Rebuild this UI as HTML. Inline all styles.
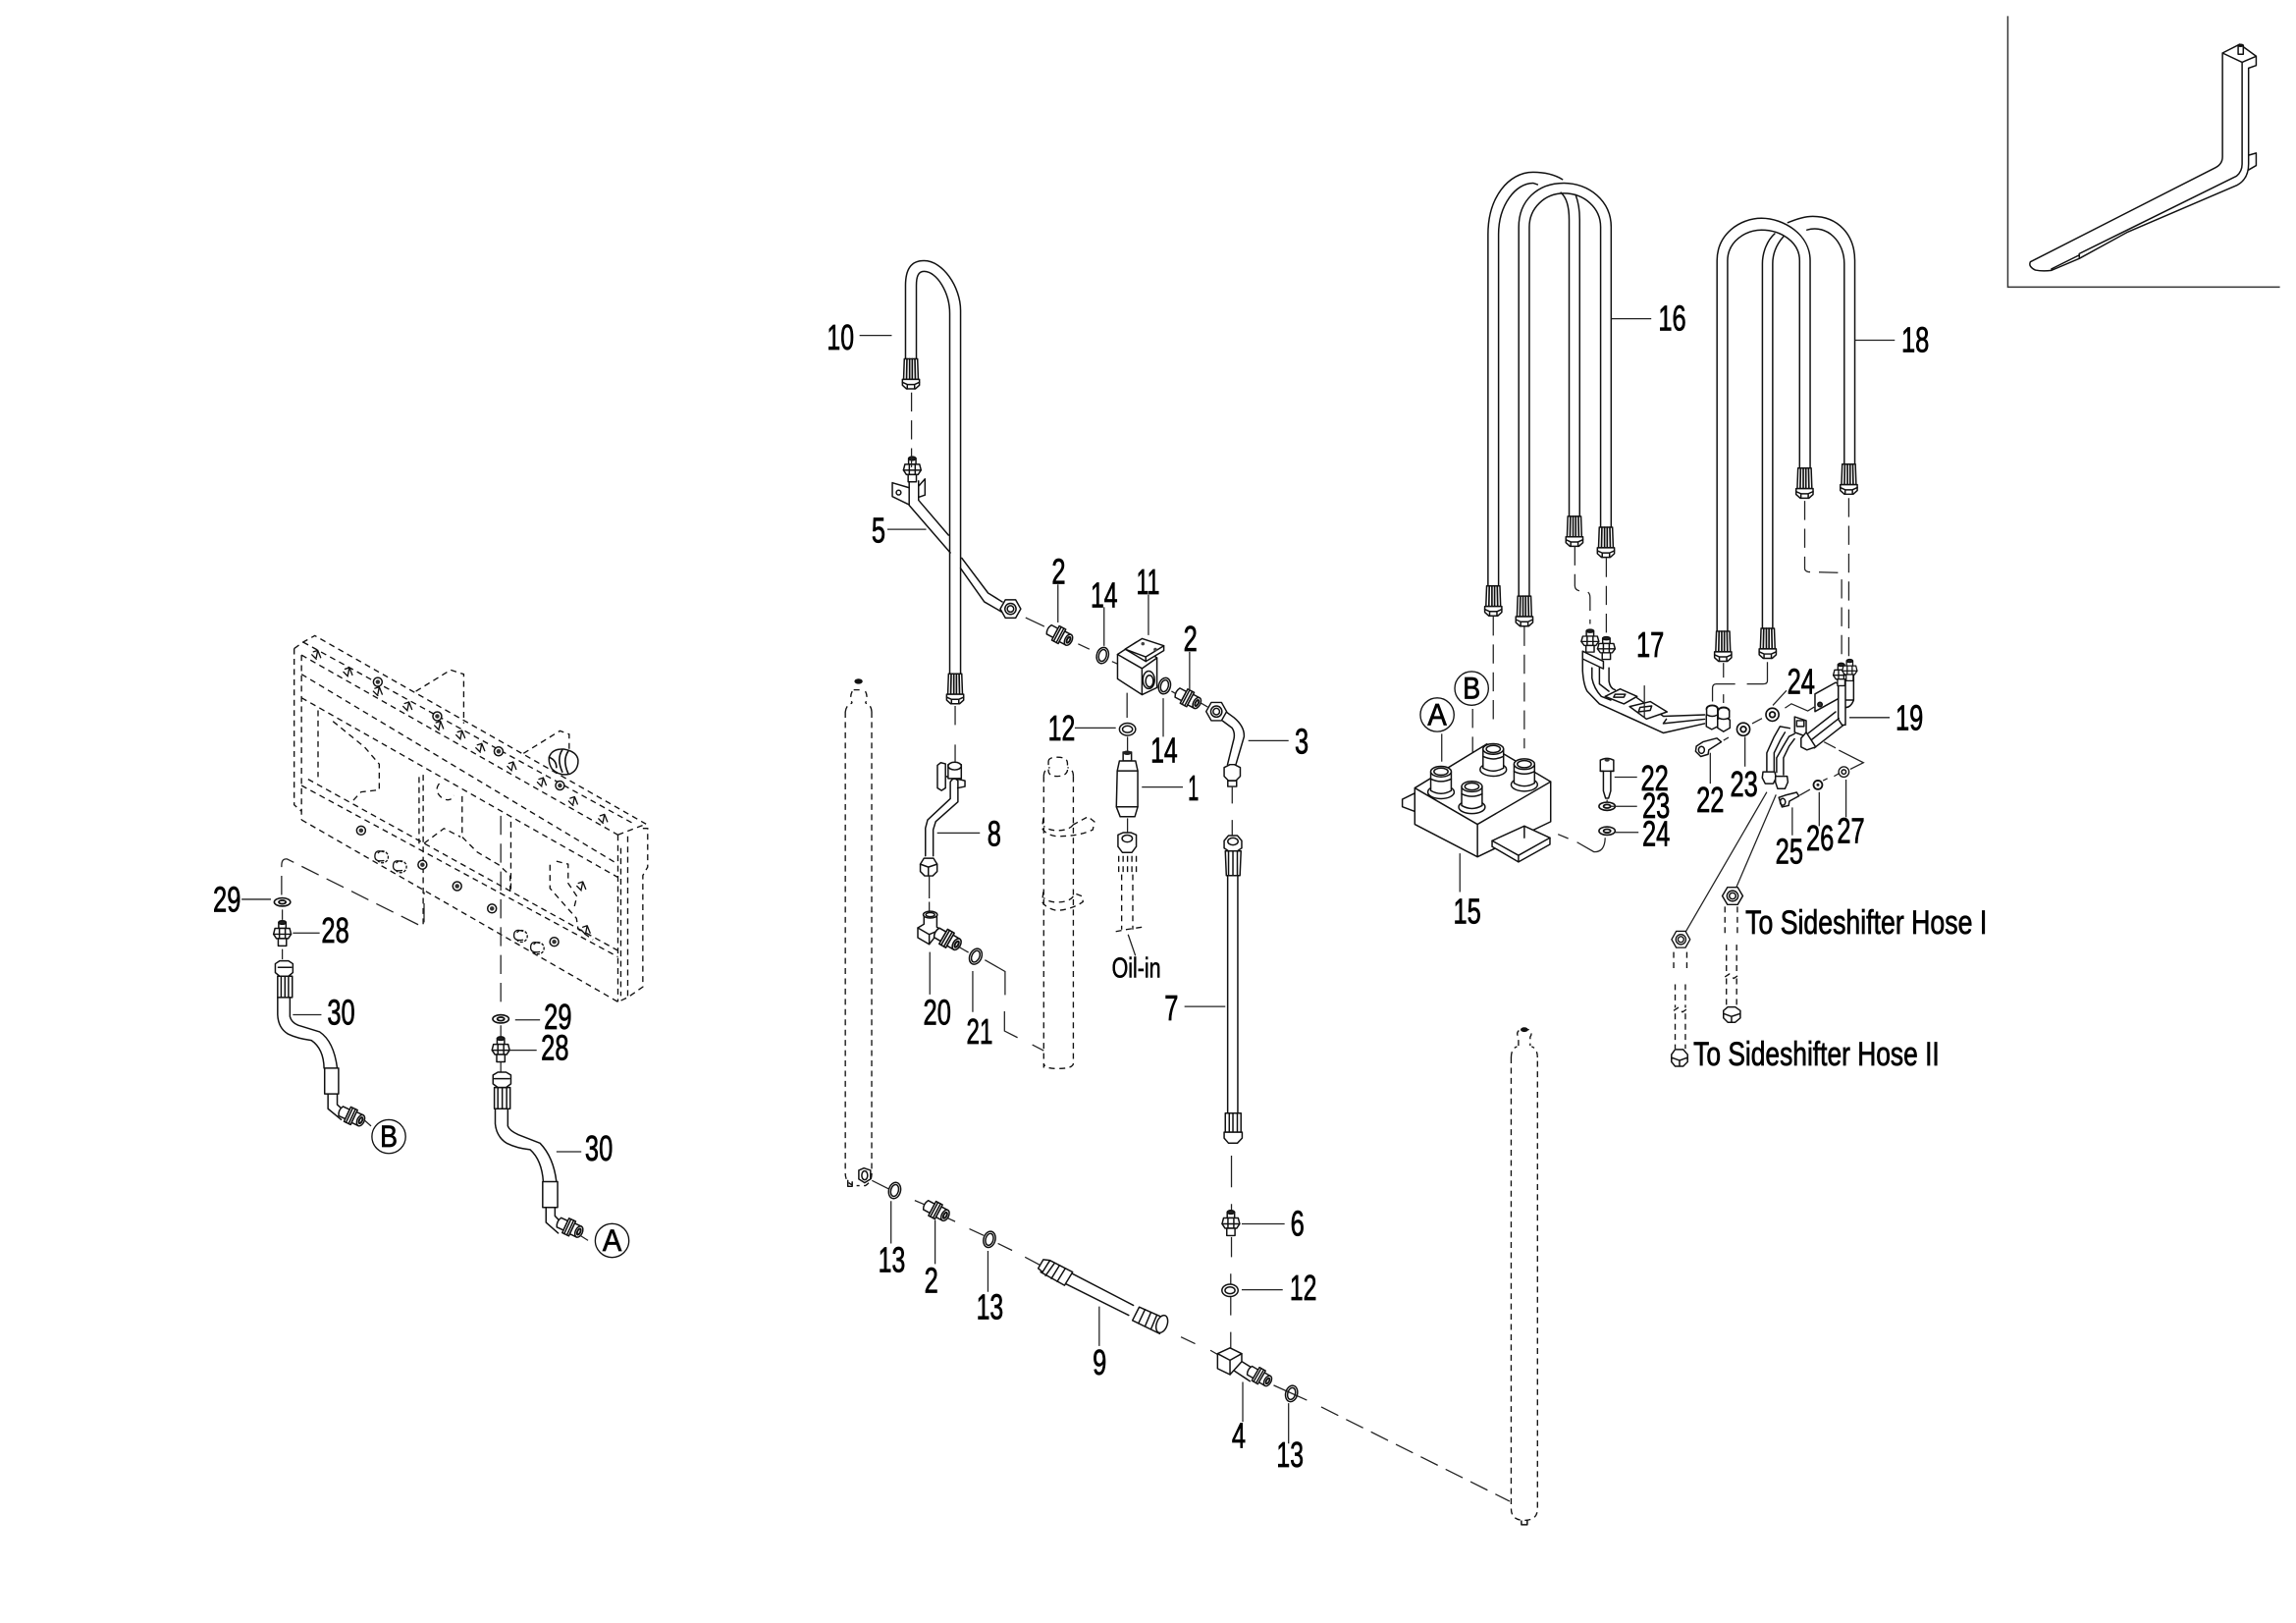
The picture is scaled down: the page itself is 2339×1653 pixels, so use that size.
<!DOCTYPE html>
<html><head><meta charset="utf-8"><title>Hydraulic diagram</title>
<style>
html,body{margin:0;padding:0;background:#fff}
svg{position:absolute;left:0;top:0;display:block}
text{font-family:"Liberation Sans",sans-serif;font-size:24px;fill:#000;stroke:#000;stroke-width:.5px;text-anchor:middle}
.g{fill:none;stroke:#111;stroke-width:1;stroke-linejoin:round;stroke-linecap:round}
.t{fill:none;stroke:#222;stroke-width:.85}
.d{fill:none;stroke:#222;stroke-width:.85;stroke-dasharray:13 6}
.s{fill:none;stroke:#111;stroke-width:.9;stroke-dasharray:4 3}
.w{fill:#fff}
</style></head><body>
<svg xmlns="http://www.w3.org/2000/svg" width="2339" height="1653" viewBox="0 0 1568 1108.1" preserveAspectRatio="none">
<defs>
<g id="fer"><path class="g w" d="M-4.5 0H4.5L5 14H-5Z"/><path class="g" d="M-2.7 0-3 14M-.9 0V14M.9 0V14M2.7 0 3 14" style="stroke-width:1.1"/><path class="g w" d="M-5.8 14H5.8L5.8 18 3 20.5H-3L-5.8 18Z"/><path class="g" d="M-5.8 16 -2.5 17.5H2.5L5.8 16M-2.5 17.5V20.5M2.5 17.5V20.5"/></g>
<g id="nut"><path class="g w" d="M-3.5-6.2 3.5-6.2 7 0 3.5 6.2-3.5 6.2-7 0Z"/><circle class="g" r="3.8"/><circle class="g" r="2.2"/></g>
<g id="fit"><path class="g w" d="M-8-3.5H-3V3.5H-8Q-10 0-8-3.5Z"/><path class="g w" d="M-3-5.5H2V5.5H-3Z"/><path class="g" d="M-1.5-5.5V5.5M.5-5.5V5.5"/><path class="g w" d="M2-4H7V4H2Z"/><ellipse class="g w" cx="7" cy="0" rx="2.4" ry="4"/><ellipse class="g" cx="7" cy="0" rx="1" ry="2.2" style="stroke-width:1.3"/></g>
<g id="wash"><ellipse class="g" rx="4" ry="5.6" style="stroke-width:1"/><ellipse class="g" rx="2.6" ry="4.1"/></g>
<g id="flat"><ellipse class="g w" rx="5.5" ry="2.8" style="stroke-width:1.1"/><ellipse class="g" rx="2.4" ry="1.2" style="stroke-width:1.2"/></g>
<g id="vwash"><ellipse class="g w" rx="5.5" ry="4.2" style="stroke-width:1"/><ellipse class="g" rx="3.4" ry="2.3"/></g>
<g id="nwash"><circle class="g w" r="4.4" style="stroke-width:1.1"/><circle class="g" r="1.9" style="stroke-width:1.2"/></g>
<g id="port"><ellipse class="g w" cx="0" cy="14" rx="9" ry="4.5"/><path class="g w" d="M-7 0V13Q0 17 7 13V0Z"/><path class="g" d="M-7 5Q0 8.5 7 5"/><ellipse class="g w" rx="7" ry="3.6"/><ellipse class="g" rx="4.8" ry="2.4"/></g>
<g id="vfit"><path class="g w" d="M-2.5-8H2.5V-4H-2.5Z"/><ellipse class="g" cy="-8" rx="2.5" ry="1.2" style="fill:#222"/><path class="g w" d="M-5-4H5L6 0 4 3H-4L-6 0Z"/><path class="g" d="M-6 0H6M-2-4V3M2-4V3"/><path class="g w" d="M-2.8 3H2.8V8H-2.8Z"/></g>
<g id="mark"><path class="g" d="M-2-2 1-3 0 2M1-3 3 2M-3 0 0 3" style="stroke-width:.9"/></g>
<g id="dot"><circle r="3" fill="#fff" stroke="#111" stroke-width="1"/><circle r="1.5" fill="#333"/></g>
<g id="cc"><path class="g" d="M3-3Q-3-5-3 0 -3 4 3 3" style="stroke-width:.9"/><path class="s" d="M-1-2A4 4 0 1 1-1 3" style="stroke-dasharray:2 1"/></g>
</defs>

<!-- inset frame -->
<path d="M1371.2 11V196H1557" fill="none" stroke="#333" stroke-width="1"/>
<path class="g" d="M1517.8 36.2 1529.6 30.2 1540.8 38.4 1531.2 42.5ZM1517.8 36.2V107Q1517.8 112 1512.9 114.5L1386.6 178.8Q1385 182 1390 184.4 1395 185.4 1401 184.6L1420 176.5 1452.5 158.7 1528 126.3Q1535.6 122 1535.6 112V46.5M1531.2 42.5V112Q1531.2 117 1527.4 120.2L1420 173.2V176.5M1401 183.6 1419.7 174.3M1540.8 38.4V44.7L1535.6 46.5M1535.6 106 1540.8 104.5V113L1535.6 116"/>
<path class="g w" d="M1528.5 31H1532V37H1528.5Z"/><ellipse cx="1530.2" cy="31" rx="2.3" ry="1.2" fill="#111"/>

<!-- mounting frame (dashed) -->
<g class="s">
<path d="M200.9 442.8 207 438.4 215 434 441.2 562.6M207 438.4 433.3 562.7M200.9 442.8V549.5L205.9 553.9M205.9 447.2V559.7M205.9 447.2 422 570M205.9 460.3 422 590M205.9 476.4 422 599"/>
<path d="M205.9 536.3 422 653.3M210.4 532 422 649M205.9 559.7 422 684M422 570V684M428.7 571V681M422 570 441.2 562.6M439 565.6H442.3V592L439 597.7V673.8L428.7 681 422 684"/>
<path d="M217.2 485V530.5M227.4 492.5 248.9 510 259 521.7V539.3L246.6 540.7 239.8 548M286.2 530.5V576M289 529V632"/>
<path d="M284 472 307.7 457.4 316.7 460.3V494M357.5 514.4 382.4 499 388.7 501.3V512"/>
<path d="M315.6 543.6V571.4L325.8 581.7 340.5 590.4 348.4 597.7V609.4M289.6 575.8 303.2 565.6 314.5 571.4M348.9 561V609"/>
<path d="M375.6 590.4V606.5L393.7 627 394.8 634.3 405 641.6M380 588 388 590V603L394 612 392 620M424 579V680"/>
<path d="M300 535Q296 540 302 545 308 548 310 543"/>
</g>
<g>
<use href="#dot" x="258" y="465.6"/><use href="#dot" x="298.6" y="489"/><use href="#dot" x="340.5" y="513"/><use href="#dot" x="382.4" y="536.3"/>
<use href="#dot" x="246.6" y="567"/><use href="#dot" x="288.5" y="590.4"/><use href="#dot" x="312.2" y="605"/><use href="#dot" x="336" y="620.3"/><use href="#dot" x="378.5" y="643"/>
<use href="#mark" x="216" y="447"/><use href="#mark" x="237.6" y="458.8"/><use href="#mark" x="258" y="472"/><use href="#mark" x="278.3" y="482.3"/><use href="#mark" x="299.8" y="495.4"/><use href="#mark" x="314.5" y="501.8"/><use href="#mark" x="328" y="510.6"/><use href="#mark" x="349.5" y="523.2"/><use href="#mark" x="370" y="534"/><use href="#mark" x="391.4" y="547"/><use href="#mark" x="411.8" y="559"/>
<use href="#mark" x="397" y="605"/><use href="#mark" x="400" y="635"/>
<use href="#cc" x="259" y="584.6"/><use href="#cc" x="271.5" y="591.3"/><use href="#cc" x="354" y="638.7"/><use href="#cc" x="365.4" y="646.9"/>
</g>
<g class="g"><path class="w" d="M375 517Q377 511 385 511.5 394 513 394.8 519 395 526 389 528.5 382 530 377 525 374.5 521 375 517Z"/><path d="M384 512Q380 518 384 527M388 513Q384 519 388 528M375 517Q380 519 380 524" style="stroke-width:1.1"/></g>

<!-- left assembly connectors -->
<path class="d" d="M192.3 611V591Q192.3 586 196 586.5L287 632Q289.6 633 289.6 630V609"/>
<path class="d" d="M342 557V690"/>
<path class="t" d="M342 700V708M342 724V732M192.8 621V628M192.8 648V655"/>
<use href="#flat" x="192.8" y="615.9"/><use href="#vfit" x="192.8" y="637.8"/>
<use href="#flat" x="342" y="695.7"/><use href="#vfit" x="342" y="717"/>
<path class="g" d="M189.6 681V692.8Q190 702 196.8 706 203 709 212.7 710.3 221 716 221.3 729.3M198 681V694Q199 698 203.6 700L218.3 704.5Q228 711 230.3 729.3M221.7 729.3H231.2V746.9H221.7ZM224 747V757L233 764.4M230.3 747V754.2L235.3 758.6"/>
<path class="g w" d="M188 658 191 656H197L200 658V664L197 666.5H191L188 664Z"/><path class="g" d="M189.6 666.5H199.6V681H189.6ZM192 666.5V681M194.6 666.5V681M197 666.5V681M190 660.5H199"/>
<use href="#fit" transform="translate(240 762) rotate(25)"/>
<path class="g" d="M338.2 757V767.3Q339 776 346 780.5 353 784 362 784.9 370 792 371 806.8M346.8 757V768.8Q348 772 354 774.7L368.8 780.5Q378 790 380 806.8M370.6 806.8H380.8V824.4H370.6ZM372.9 824.4V834.6L381.2 841.9M379 824.4V830.2L384.6 836"/>
<path class="g w" d="M336.7 734 340 732H345.6L348.9 734V740L345.6 742.5H340L336.7 740Z"/><path class="g" d="M337.6 742.5H348.4V757H337.6ZM340 742.5V757M343 742.5V757M346 742.5V757M337.5 736.5H348"/>
<use href="#fit" transform="translate(389 838) rotate(25)"/>
<path class="t" d="M248.4 764.4 253.4 768.8M396 843.4 401.6 846.9"/>

<!-- hose 10 + tube 5 -->
<path class="g" d="M620.9 328.4V345L649 377.4M656 388 672.2 410.9 684.5 418M627.3 328.4V341.5L647.8 365.4M656.8 381 674.8 404.9 684.5 410.9"/>
<path class="g" d="M609.4 329.6V339L620.9 344.6M609.4 329.6 620.9 333M627.3 332 631.7 327V338L627.3 339.5"/><circle class="g" cx="613.7" cy="336.3" r="1.6"/>
<use href="#vfit" x="623" y="321" />
<use href="#nut" x="690.1" y="415.7"/>
<path class="g" d="M618.4 245V195C618.4 184 622 178 631 178 644 178 656 196 656 212V460M625.8 245V195C625.8 189 627 185.3 631 185.3 640 185.3 648.6 200 648.6 214V460"/>
<use href="#fer" x="622.1" y="245"/>
<use href="#fer" x="652.3" y="460"/>
<path class="d" d="M622.5 268V320M652.3 482V497M652.3 508.4V520"/>
<path class="t" d="M700.4 421.7 713.2 427.7M736.3 439.6 744 443.2M759.4 451.6 763.2 453.3M800 471.9 804.2 474.3M818.4 479 824.8 482.7"/>

<!-- valve 11 -->
<path class="g w" d="M763.2 446.8 776 438.4 790.1 449.2V469.5L779.9 474.3 763.2 463.5Z"/>
<path class="g" d="M763.2 446.8 779.9 456.4 790.1 449.2M779.9 456.4V474.3"/>
<path class="g w" d="M768.4 443.2 780 436 794.8 440.9V444.2L782.5 451.6Z"/><path class="g" d="M768.4 443.2 782.5 448.5 794.8 440.9M782.5 448.5V451.6"/>
<circle cx="780.5" cy="439.5" r="1.2" fill="#444"/><circle cx="789" cy="443.5" r="1.2" fill="#444"/>
<ellipse class="g" cx="784.5" cy="464.2" rx="4" ry="6"/><ellipse class="g" cx="785" cy="465" rx="2.6" ry="4"/>
<use href="#fit" transform="translate(723.5 433.6) rotate(28)"/>
<use href="#fit" transform="translate(811.2 476.7) rotate(28)"/>
<use href="#wash" x="753" y="447.5" transform="rotate(15 753 447.5)"/>
<use href="#wash" x="795.3" y="468.3" transform="rotate(15 795.3 468.3)"/>

<!-- tube 3 -->
<path class="g" d="M836 485 842.7 489.9Q850 496 849.6 503L844 522M835 492.2 841.4 497Q843.5 500 842.7 504.2L838.3 522"/>
<use href="#nut" x="830.7" y="485.8"/>
<path class="g w" d="M836 524 840 522H843L847 524V530L844 533H839L836 530Z"/><path class="g" d="M838.5 533H844.5V537H838.5Z"/>
<path class="t" d="M841.5 537.4V548.6M841.5 559.8V571"/>

<!-- hose 7 -->
<path class="g" d="M838.4 597.8V760M845.3 597.8V760"/>
<path class="g w" d="M836 574 839 570.5H845L848 574V579L845 581H839L836 579Z"/><ellipse class="g" cx="842" cy="574.5" rx="3.5" ry="2.4"/>
<path class="g" d="M836.8 581H847.5L846.8 597.8H837.5ZM839 581V597.8M842 581V597.8M845 581V597.8"/>
<path class="g w" d="M836.8 760H847.5V773H836.8ZM839.5 760V773M842 760V773M845 760V773"/>
<path class="g w" d="M836 773H848.3V777L845 780.5H839L836 777Z"/>
<path class="t" d="M841 789V810.6M841 822V827.6M841 844.6V858.3M840.5 869.6V877.6M840.5 885.6V898M840.5 909.4V920.8"/>
<use href="#vfit" x="840.6" y="835.6"/>
<use href="#vwash" x="840" y="881"/>

<!-- filter 1 -->
<path class="t" d="M769.7 473V490M770 503V513M770 558.7V571"/>
<use href="#vwash" x="770" y="497.9"/>
<path class="g w" d="M767 513.5H772.7V519.5H767Z"/><ellipse cx="769.8" cy="514" rx="2.8" ry="1.5" fill="#222"/>
<path class="g w" d="M763 526.3 764.5 519.5H775.5L777 526.3V550.9L775 557.6H765L762.4 550.9Z"/>
<path class="g" d="M763 526.3H777M762.4 550.9H777"/>
<path class="g w" d="M763.5 570 767 568.5H772.5L776 570 776 578 773 582H766.5L763.5 578Z"/><ellipse class="g" cx="769.8" cy="572.5" rx="3.5" ry="2.4"/>
<path class="s" d="M764 584.4V596.7M776 584.4V596.7M767 584.4V596.7M770 584.4V596.7M773 584.4V596.7M766 597V634.7M773.6 597V634.7M762 636 770 634.5 780 633"/>
<path class="t" d="M770.4 638 775.4 652.5"/>

<!-- bracket 8 -->
<path class="g" d="M640.2 522.5 642.5 520.7 645.7 521.5V538L643 539.7 640.2 538ZM645.7 530 659 533V537L654 538"/>
<path class="g w" d="M647.5 522H656.5V531.5H647.5Z"/><ellipse class="g w" cx="652" cy="523" rx="4.5" ry="2.6"/>
<path class="g" d="M649 534V545.3L633.5 559.8 632 565.4V584.4M654.2 533V547.5L639 561 637.3 566.5V584.4M649 534Q651 530 654.2 533"/>
<path class="g w" d="M628.5 590 631 586H637.5L640 590V595L637 598H631.5L628.5 595Z"/><path class="g" d="M628.5 590 634 592 640 590M634 592V598"/>
<path class="t" d="M634.6 598V613.4M634.6 615.7V623.5"/>

<!-- elbow 20 -->
<path class="g w" d="M626.8 633.5 631 631V624H639.8V633L642.4 634.7 634.6 644.7 626.8 640.2Z"/><path class="g" d="M626.8 633.5 634.6 638 642.4 634.7M634.6 638V644.7"/>
<ellipse class="g w" cx="635.3" cy="624.5" rx="4.8" ry="2.3"/><ellipse class="g" cx="635.3" cy="624.5" rx="3" ry="1.4"/>
<use href="#fit" transform="translate(647 641) rotate(30) scale(1.05)"/>
<use href="#wash" x="666.3" y="653" transform="rotate(25 666.3 653)"/>
<path class="t" d="M653.6 645.8 661.4 650.3"/>
<path class="t" d="M672.6 655.4 686.4 663.3V679.3M686 690.5V703.9L694.9 708.4M705 713.3 712.8 717.3"/>

<!-- cylinders dashed -->
<g class="s">
<path d="M577.3 486V800Q577 807 582 809M595.3 486V802Q595 807 591 809.5H585"/>
<path d="M577.3 486Q578 481 582 480M595.3 486Q595 481 591 480M582 472Q580 476 582 480M591 472Q593 476 591 480M583 471 590 471"/>
<path d="M712.8 530V729M733 530V726Q733 729.6 722 729.6 713 729.6 712.8 726"/>
<path d="M712.8 530Q713 525 717 524M733 530Q733 525 729 524M716 520Q716 517 722 517 729 517 729 521V526Q728 530 722 530 716 530 716 526Z"/>
<path d="M712.5 558.7 711.7 565.4Q714 570 721.7 571 737 571 746.3 566.5L747.4 561 743 557.6 733 563M733 563Q730 567 722 567 716 567 712.8 564"/>
<path d="M712.5 609 711.7 615.7Q714 620 721.7 621.7 732 621 739.6 615.7L739 611.9 734 610M733 612Q730 616 722 616 716 616 712.8 613"/>
<path d="M1032 722V1030Q1032 1038 1041 1038 1050 1038 1050 1030V722M1032 722Q1032 716 1036 714.5M1050 722Q1050 716 1046 714.5"/>
<path d="M1037 714V708Q1035 705 1038 703H1044Q1047 705 1045 708V714"/>
<path d="M1143 650V664M1152 650V664M1144 672V688M1151 672V688M1143 690 1146 688 1149 691 1152 689M1144 692V716M1151 692V716"/>
<path d="M1178 619V640M1186.5 619V640M1179 645V665M1186 645V665M1178 667 1181 665 1184 668 1187 666M1179 668V688M1186 668V688"/>
</g>
<ellipse cx="586.3" cy="465.2" rx="2.8" ry="1.8" fill="#111"/>
<ellipse cx="1041" cy="703" rx="2.6" ry="1.6" fill="#111"/>
<path class="g" d="M1039 1038.5V1041H1043V1038"/>
<path class="g" d="M579 806V810H582V807"/>
<path class="g w" d="M586.5 799 590 797.5 594.5 799V805L590.5 807.5 586.5 805Z"/><ellipse class="g" cx="590.5" cy="802.5" rx="2" ry="3"/>

<!-- bottom chain -->
<path class="t" d="M595.5 806 606.8 811.7M624.7 819.6 632.8 823M645.8 831 652.3 834M662 839 671.8 843.5M681.5 849 691.2 853.7M700 858.3 710.7 864M806.5 912.8 816.2 917.4M826.6 921.9 832.5 925.3M869.8 945.8 892.5 956"/>
<path class="d" d="M902.3 960.6 1031 1025"/>
<use href="#wash" x="611" y="812.8" transform="rotate(15 611 812.8)"/>
<use href="#fit" transform="translate(639.3 826.5) rotate(28)"/>
<use href="#wash" x="675.7" y="846.2" transform="rotate(15 675.7 846.2)"/>
<use href="#wash" x="882" y="951.5" transform="rotate(15 882 951.5)"/>

<!-- hose 9 -->
<path class="g" d="M730.2 868.5 774 891.2M725.3 875.3 770.8 898"/>
<path class="g w" d="M717.2 860.6 732.5 868.5 727 877.6 710.7 868.5Z"/><path class="g" d="M720 862.6 714 871M723.5 864 718 873M727.5 866 722 875"/>
<path class="g w" d="M712.5 860 717 860.5 712 868.5 709 866Z"/>
<path class="g w" d="M778 892.4 796 900.3 792 910.6 773.4 901.5Z"/><path class="g" d="M782 894 777.5 903.5M786 896 782 905.5M790 898 786 907.5"/>
<ellipse class="g w" cx="793.5" cy="904" rx="3.6" ry="6.2" transform="rotate(20 793.5 904)"/>

<!-- elbow 4 -->
<path class="g" d="M848 929.5 856.8 935M840.6 934.4 853.6 943"/>
<path class="g w" d="M831.5 924.2 840 920.3 848 924.2V929.6L840 938.5 831.5 934.4Z"/><path class="g" d="M831.5 924.2 840 928.7 848 924.2M840 928.7V938.5"/>
<use href="#fit" transform="translate(860 939.5) rotate(30) scale(.95)"/>

<!-- hoses 16 -->
<g class="g">
<path d="M1016.2 400V160C1016.2 135 1030 117.6 1047 117.6 1055 117.6 1062 119.5 1067 122.5M1023.4 400V160C1023.4 140 1035 125 1047 125L1050 126"/>
<path d="M1071.6 352.5V150C1071.6 142 1070 135 1066 131.5M1078.8 352.5V150C1078.8 143 1078 138 1076 133"/>
<path d="M1037.2 407V155C1037.2 137 1050 125 1068 125 1085 125 1100.3 137 1100.3 155V360M1044.4 407V155C1044.4 142 1055 132 1068 132 1082 132 1093.1 142 1093.1 155V360"/>
</g>
<use href="#fer" x="1019.8" y="400"/><use href="#fer" x="1041" y="407"/><use href="#fer" x="1075.2" y="352.5"/><use href="#fer" x="1096.7" y="360"/>

<!-- hoses 18 -->
<g class="g">
<path d="M1172.6 431V178C1172.6 160 1188 149 1203 149 1218 149 1236.2 160 1236.2 178V320M1179.8 431V178C1179.8 165 1192 157 1203 157 1216 157 1229 165 1229 178V320"/>
<path d="M1203.6 429V180C1203.6 172 1207 164 1212 159.5M1210.6 429V180C1210.6 172 1214 166 1218 161.5"/>
<path d="M1221 152C1228 149 1234 147.7 1238 147.7 1255 147.7 1266.7 160 1266.7 178V317M1234 157C1248 153 1259.5 165 1259.5 180V317"/>
</g>
<use href="#fer" x="1176.7" y="431"/><use href="#fer" x="1207.2" y="429"/><use href="#fer" x="1232.4" y="319.6"/><use href="#fer" x="1262.6" y="316.9"/>

<!-- connectors 16/18 -->
<path class="d" d="M1019.8 421V494M1041 428V511M1005.7 484V521"/>
<path class="t" d="M984.6 501V520"/>
<path class="d" d="M1075.5 373V400Q1075.7 403 1079 403.5L1084 404Q1085.9 405 1085.9 408V426M1097 381V432"/>
<path class="t" d="M1177 452.6V462.6M1177 474V480M1207 452V465Q1207 467 1204 467H1193M1185 467H1172Q1169.5 467 1169.5 470V479"/>
<path class="d" d="M1232.5 342V388Q1232.5 390 1235 390.5L1255 391Q1257.7 391 1257.7 394V453M1262.6 340V451"/>

<!-- manifold 15 -->
<path class="g w" d="M957.7 545.7 966.2 541.5V554L957.7 550.8Z"/>
<path class="g w" d="M966.2 538 1015.4 508 1059 533.7V561L1009 585 966.2 562.8Z"/>
<path class="g" d="M966.2 538 1009 562.8 1059 533.7M1009 562.8V585"/>
<path class="g w" d="M1019 574 1041 564 1058.5 572V576.5L1037 588.5 1019 578Z"/>
<path class="g" d="M1019 574 1037 584 1058.5 572M1037 584V588.5M1041 564V572"/>
<use href="#port" x="1019.8" y="511.4"/><use href="#port" x="1041" y="521.7"/><use href="#port" x="984.1" y="526.8"/><use href="#port" x="1005.2" y="537"/>
<path class="t" d="M1064 569.6 1071 572.5M1077 575 1088.5 581.6Q1096 582 1096.2 572"/>

<!-- bolt stack -->
<path class="g w" d="M1092.9 519Q1097.5 516.5 1102 519V526.5H1100V540L1098.5 545H1096.5L1095 540V526.5H1092.9Z"/><path class="g" d="M1092.9 526.5H1102"/><ellipse cx="1097.5" cy="519" rx="1.7" ry="1" fill="#333"/>
<use href="#flat" x="1097.5" y="550.5"/><use href="#flat" x="1097.5" y="567.3"/>
<path class="t" d="M1097.5 546V548"/>

<!-- tube 17 -->
<g class="g">
<path d="M1080.8 449.8V458Q1081.5 468 1084 472L1092.3 480.6 1135.9 500.4 1164.1 494M1087.2 456V463Q1088.5 470 1093.6 475.5L1100 478M1092.3 456V467L1098.8 472M1098.8 456V465Q1099.5 470 1103 471M1118 476.5 1136 489 1164.1 488M1138 491 1135.9 494 1164.1 491"/>
<path class="w" d="M1096.2 475.5 1106.5 470.4 1118 475.5 1109 480.6Z"/><path d="M1103 474H1110L1109 476H1102Z"/>
<path class="w" d="M1112.9 482.4 1127 479 1138.5 486 1124.4 490.9Z"/><path d="M1120 483 1128 482 1127 485 1119 486Z"/>
<path class="w" d="M1080.8 444.6 1095 451.5V456.6L1080.8 449.8Z"/>
</g>
<use href="#vfit" transform="translate(1085.9 438) scale(1 .9)"/>
<use href="#vfit" transform="translate(1097 443) scale(1 .9)"/>
<path class="g w" d="M1165.3 488 1169 486 1173 488V496L1169 498 1165.3 496Z"/>
<path class="g w" d="M1173 491 1177 489 1181.4 491.5V497L1177 499.5 1173 497Z"/>
<ellipse class="g w" cx="1169.3" cy="484" rx="3.8" ry="2.4" style="stroke-width:1.3"/><path class="g w" d="M1165.5 484V488Q1169.3 490 1173 488V484"/>
<ellipse class="g w" cx="1177.1" cy="485.4" rx="3.8" ry="2.4" style="stroke-width:1.3"/><path class="g w" d="M1173.3 485.4V490Q1177 492 1181 490V485.4"/>

<!-- 22 23 24 right -->
<path class="g w" d="M1158.5 509.5 1163 506.5 1172.5 504 1175.5 506.5 1167 512 1166.5 515 1161.5 516.5 1158 513Z"/><ellipse class="g" cx="1162" cy="512" rx="2" ry="2.4"/>
<use href="#nwash" x="1190.6" y="497.9"/><use href="#nwash" x="1210.4" y="487.9"/>
<path class="t" d="M1177 505.5 1180.5 503.5M1196.6 494 1203.3 490.5M1219 483.4 1223.4 480.5 1234.6 485.4 1239 482.7"/>

<!-- part 19 -->
<g class="g">
<path d="M1253.6 486 1233.5 501.7M1255.8 490.5 1235.7 506.2M1259 495 1239 510.7M1255.4 456V491L1258 495H1260.3V456M1260.3 478H1265.9V456M1260.3 483Q1264 483 1265.9 478"/>
<path class="w" d="M1239.5 473.8 1253.6 466 1255.4 467V477L1239.5 485.8Z"/><circle cx="1242.9" cy="481" r="1.5" fill="#333"/>
<path class="w" d="M1225.6 489.4 1233.5 492V502.8L1225.6 500Z"/><path d="M1227 492H1232V496H1227Z" style="stroke-width:1"/>
<path class="w" d="M1230 504 1233.5 500 1240 510 1234 512 1230 510Z"/>
<path d="M1206.6 526.3V514L1211.6 503 1215.6 496 1222.3 497.2M1213.3 527.4V517.4L1217.8 509.5 1221.8 502.8 1225.5 501M1218 529V517.4L1221.8 509.5 1225.5 504.5M1211.6 526.3V514L1216 505 1219 500"/>
</g>
<use href="#vfit" transform="translate(1257.4 461) scale(.9)"/>
<use href="#vfit" transform="translate(1263.2 458) scale(.85)"/>
<path class="g w" d="M1204 527 1212 527 1213 531 1211 535H1205.5L1203.5 531Z"/><path class="g w" d="M1212.5 530 1220.5 530 1221 534 1219 538.5H1214L1212.5 534Z"/>
<path class="t" d="M1245.7 506.6 1253.6 510.7M1255.8 512.2 1272.6 520.7 1263.6 525.2M1229 543 1236.1 539M1245 533 1248 531.5M1252.5 530 1256 528"/>
<path class="g w" d="M1214.8 544.5 1219 543 1227 541 1228.5 543.5 1222 547 1221.5 550 1217 551Z"/><ellipse class="g" cx="1217.5" cy="547.5" rx="1.8" ry="2.3"/>
<circle cx="1241.5" cy="535.9" r="3" fill="#fff" stroke="#111" stroke-width="1.2"/><circle cx="1241.5" cy="535.9" r="1" fill="#222"/>
<use href="#nwash" transform="translate(1259.2 527) scale(.8)"/>

<!-- hoses to sideshifter -->
<path class="t" d="M1206.6 540.8 1150.8 636.9M1212.9 542.6 1185.4 606.7"/>
<use href="#nut" transform="translate(1183.2 611.7) scale(1 .95)"/>
<use href="#nut" transform="translate(1147.9 641.4) scale(.9)"/>
<path class="g w" d="M1177 690 1180 687.5H1185L1188.5 690V695L1185 698H1180L1177 695ZM1177 692 1182.5 694 1188.5 692M1182.5 694V698"/>
<path class="g w" d="M1141.5 720 1144 716.5H1149.5L1152.5 720V725L1149.5 728H1144L1141.5 725ZM1141.5 722 1147 724 1152.5 722M1147 724V728"/>

<!-- leaders -->
<path class="t" d="M587 229H609M606 361.4H632.5M722.5 399V425M754 414.5V441M784.3 406V433.6M812.4 445V472M734 497H762M794.4 476.7V503M852.5 505.7H880M779.8 537.4H807.8M640 568.7H669.2M635 650V679M664.3 663V691M808.9 687.2H836.8"/>
<path class="t" d="M848 835.6H877.3M848 880.6H876M608.5 820V849M638.6 833V863M674.7 854V882M750.7 892V919M848.7 943.5V970.8M880 958V985.6"/>
<path class="t" d="M1100.5 217.6H1127.7M1266.7 232.3H1294M997 582.6V609M1102.6 530.6H1118M1100 550.5H1118M1102.6 568.3H1119M1168 514V535M1191.7 503V523.4M1220 471.5 1210.7 481.6M1263 489.9H1290.5M1224 551.3V570.3M1242.4 540.8V564M1260.7 532.3V558"/>
<path class="t" d="M165 614H185M200 637H218.3M200 692.8H219.5M351.8 696.3H368.8M348.4 717H366.5M380 786.3H397M1123 468V490"/>

<!-- circled letters -->
<g fill="#fff" stroke="#111" stroke-width=".9">
<circle cx="981.5" cy="488" r="11.5"/><circle cx="1005" cy="470" r="11.5"/><circle cx="265.5" cy="776" r="11.5"/><circle cx="418" cy="847" r="11.5"/>
</g>
<text x="981.5" y="495" style="font-size:21px" textLength="13" lengthAdjust="spacingAndGlyphs">A</text>
<text x="1005" y="477" style="font-size:21px" textLength="12" lengthAdjust="spacingAndGlyphs">B</text>
<text x="265.5" y="783" style="font-size:21px" textLength="12" lengthAdjust="spacingAndGlyphs">B</text>
<text x="418" y="854" style="font-size:21px" textLength="13" lengthAdjust="spacingAndGlyphs">A</text>

<!-- labels -->
<g transform="translate(0 .5)">
<text x="574" y="238" textLength="18.5" lengthAdjust="spacingAndGlyphs">10</text>
<text x="600" y="370" textLength="9.5" lengthAdjust="spacingAndGlyphs">5</text>
<text x="723" y="398" textLength="9.5" lengthAdjust="spacingAndGlyphs">2</text>
<text x="754" y="414" textLength="18.5" lengthAdjust="spacingAndGlyphs">14</text>
<text x="784" y="405" textLength="16" lengthAdjust="spacingAndGlyphs">11</text>
<text x="813" y="444" textLength="9.5" lengthAdjust="spacingAndGlyphs">2</text>
<text x="725" y="505" textLength="18.5" lengthAdjust="spacingAndGlyphs">12</text>
<text x="795" y="520" textLength="18.5" lengthAdjust="spacingAndGlyphs">14</text>
<text x="889" y="514" textLength="9.5" lengthAdjust="spacingAndGlyphs">3</text>
<text x="815" y="546" textLength="7.5" lengthAdjust="spacingAndGlyphs">1</text>
<text x="679" y="577" textLength="9.5" lengthAdjust="spacingAndGlyphs">8</text>
<text x="640" y="699" textLength="19" lengthAdjust="spacingAndGlyphs">20</text>
<text x="669" y="712" textLength="18" lengthAdjust="spacingAndGlyphs">21</text>
<text x="776" y="667" style="font-size:19px;stroke-width:.4px" textLength="33.5" lengthAdjust="spacingAndGlyphs">Oil-in</text>
<text x="800" y="696" textLength="9.5" lengthAdjust="spacingAndGlyphs">7</text>
<text x="886" y="843" textLength="9.5" lengthAdjust="spacingAndGlyphs">6</text>
<text x="890" y="887" textLength="18.5" lengthAdjust="spacingAndGlyphs">12</text>
<text x="609" y="868" textLength="18.5" lengthAdjust="spacingAndGlyphs">13</text>
<text x="636" y="882" textLength="9.5" lengthAdjust="spacingAndGlyphs">2</text>
<text x="676" y="900" textLength="18.5" lengthAdjust="spacingAndGlyphs">13</text>
<text x="751" y="938" textLength="9.5" lengthAdjust="spacingAndGlyphs">9</text>
<text x="846" y="988" textLength="9.5" lengthAdjust="spacingAndGlyphs">4</text>
<text x="881" y="1001" textLength="18.5" lengthAdjust="spacingAndGlyphs">13</text>
<text x="1142" y="225" textLength="19" lengthAdjust="spacingAndGlyphs">16</text>
<text x="1308" y="240" textLength="19" lengthAdjust="spacingAndGlyphs">18</text>
<text x="1127" y="448" textLength="19" lengthAdjust="spacingAndGlyphs">17</text>
<text x="1002" y="630" textLength="19" lengthAdjust="spacingAndGlyphs">15</text>
<text x="1130" y="539" textLength="19" lengthAdjust="spacingAndGlyphs">22</text>
<text x="1131" y="558" textLength="19" lengthAdjust="spacingAndGlyphs">23</text>
<text x="1131" y="577" textLength="19" lengthAdjust="spacingAndGlyphs">24</text>
<text x="1168" y="554" textLength="19" lengthAdjust="spacingAndGlyphs">22</text>
<text x="1191" y="543" textLength="19" lengthAdjust="spacingAndGlyphs">23</text>
<text x="1230" y="473" textLength="19" lengthAdjust="spacingAndGlyphs">24</text>
<text x="1304" y="498" textLength="19" lengthAdjust="spacingAndGlyphs">19</text>
<text x="1222" y="589" textLength="19" lengthAdjust="spacingAndGlyphs">25</text>
<text x="1243" y="580" textLength="19" lengthAdjust="spacingAndGlyphs">26</text>
<text x="1264" y="575" textLength="19" lengthAdjust="spacingAndGlyphs">27</text>
<text x="155" y="622" textLength="19" lengthAdjust="spacingAndGlyphs">29</text>
<text x="229" y="643" textLength="19" lengthAdjust="spacingAndGlyphs">28</text>
<text x="233" y="699" textLength="19" lengthAdjust="spacingAndGlyphs">30</text>
<text x="381" y="702" textLength="19" lengthAdjust="spacingAndGlyphs">29</text>
<text x="379" y="723" textLength="19" lengthAdjust="spacingAndGlyphs">28</text>
<text x="409" y="792" textLength="19" lengthAdjust="spacingAndGlyphs">30</text>
<text x="1274.5" y="637" style="font-size:23px" textLength="165" lengthAdjust="spacingAndGlyphs">To Sideshifter Hose I</text>
<text x="1240.5" y="727" style="font-size:23px" textLength="168" lengthAdjust="spacingAndGlyphs">To Sideshifter Hose II</text>
</g>
</svg>
</body></html>
